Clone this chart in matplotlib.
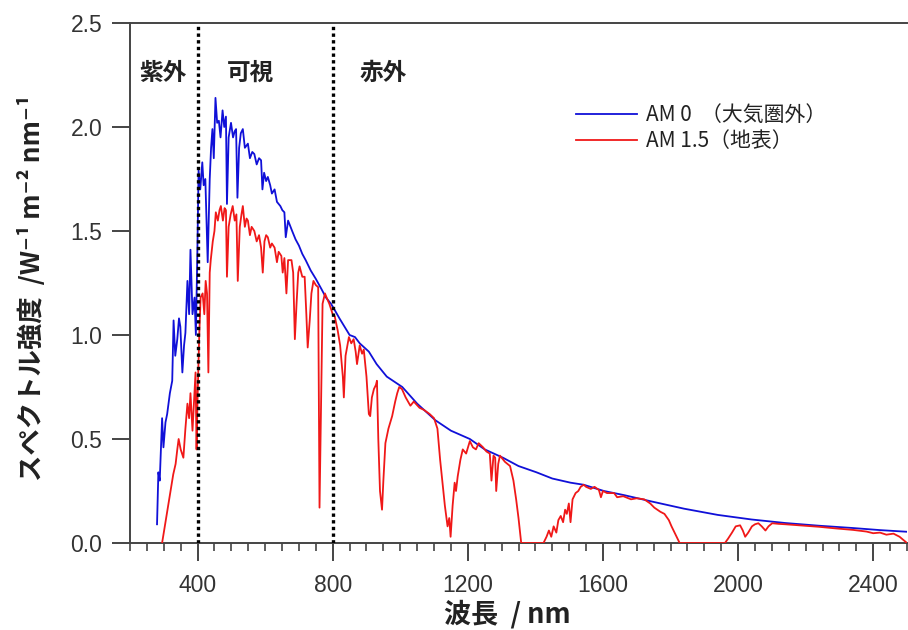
import numpy as np
import matplotlib
matplotlib.use("Agg")
import matplotlib.pyplot as plt
from matplotlib.ticker import MultipleLocator, FixedLocator

# AM0 (extraterrestrial) spectrum, wavelength in nm
am0_wl = [280, 284, 288, 295, 299, 305, 310, 318, 325, 329, 334, 340, 345, 349, 355,
          360, 364, 370, 375, 379, 385, 391, 395, 399, 403, 408, 414, 418, 423, 430,
          436, 440, 444, 448, 453, 458, 463, 468, 474, 479, 484, 487, 492, 499, 505,
          510, 514, 518, 523, 528, 534, 540, 549, 555, 562, 568, 575, 582, 588, 592,
          597, 603, 608, 615, 620, 628, 635, 645, 651, 657, 661, 668, 680, 690, 700,
          710, 720, 735, 750, 767, 780, 795, 806, 820, 835, 850, 866, 880, 907, 930,
          960, 1006, 1050, 1104, 1150, 1206, 1250, 1304, 1350, 1403, 1450, 1504, 1543,
          1603, 1663, 1743, 1840, 1940, 2040, 2140, 2240, 2340, 2420, 2500]
am0_val = [0.09, 0.34, 0.30, 0.60, 0.46, 0.58, 0.62, 0.72, 0.78, 1.07, 0.90, 0.98, 1.08, 1.04, 0.82,
           0.95, 1.01, 1.26, 1.10, 1.41, 1.10, 1.18, 1.00, 1.36, 1.79, 1.70, 1.83, 1.72, 1.75, 1.35,
           1.75, 1.90, 1.99, 1.85, 2.14, 2.02, 2.03, 1.95, 2.08, 2.00, 2.05, 1.63, 1.95, 2.02, 1.95,
           1.98, 1.99, 1.66, 1.90, 1.97, 1.99, 1.90, 1.92, 1.85, 1.88, 1.87, 1.82, 1.85, 1.84, 1.70,
           1.78, 1.74, 1.76, 1.72, 1.68, 1.70, 1.64, 1.62, 1.60, 1.59, 1.47, 1.55, 1.50, 1.46, 1.43,
           1.39, 1.36, 1.31, 1.27, 1.22, 1.18, 1.15, 1.12, 1.08, 1.04, 1.00, 0.99, 0.96, 0.92, 0.86,
           0.80, 0.75, 0.67, 0.59, 0.54, 0.50, 0.45, 0.41, 0.37, 0.34, 0.31, 0.29, 0.28,
           0.25, 0.23, 0.20, 0.165, 0.135, 0.113, 0.096, 0.083, 0.072, 0.062, 0.054]

# AM1.5 (ground level) spectrum
am15_wl = [295, 300, 310, 320, 328, 335, 340, 344, 350, 358, 364, 370, 375, 379, 385,
           390, 394, 397, 400, 405, 409, 415, 420, 424, 428, 432, 436, 439, 445, 450,
           454, 460, 465, 469, 475, 480, 484, 487, 492, 498, 504, 510, 515, 519, 525,
           530, 534, 540, 545, 549, 555, 560, 568, 575, 582, 588, 593, 598, 603, 608,
           615, 620, 628, 635, 640, 648, 652, 657, 663, 668, 678, 683, 688, 693, 698,
           702, 710, 717, 722, 726, 732, 737, 743, 750, 757, 761, 765, 770, 777, 782,
           790, 800, 806, 815, 822, 830, 833, 838, 848, 855, 862, 868, 872, 880, 887,
           892, 900, 907, 911, 916, 922, 928, 931, 935, 940, 946, 950, 956, 965, 976,
           985, 991, 997, 1005, 1016, 1030, 1040, 1057, 1070, 1087, 1100, 1110, 1118, 1125, 1132,
           1140, 1145, 1149, 1155, 1161, 1165, 1170, 1178, 1185, 1195, 1206, 1215, 1224, 1232, 1245,
           1255, 1265, 1270, 1276, 1281, 1284, 1290, 1295, 1310, 1325, 1335, 1343, 1350, 1358, 1424,
           1433, 1440, 1447, 1454, 1462, 1468, 1475, 1482, 1488, 1493, 1499, 1504, 1510, 1519, 1527,
           1534, 1543, 1550, 1564, 1575, 1588, 1594, 1600, 1612, 1633, 1642, 1660, 1683, 1700, 1722,
           1740, 1752, 1770, 1782, 1795, 1803, 1815, 1827, 1961, 1970, 1982, 1993, 2006, 2014, 2021,
           2030, 2041, 2050, 2060, 2070, 2081, 2090, 2101, 2120, 2140, 2180, 2239, 2290, 2340, 2380,
           2400, 2420, 2439, 2460, 2478, 2500]
am15_val = [0.0, 0.05, 0.15, 0.25, 0.33, 0.38, 0.45, 0.50, 0.45, 0.41, 0.55, 0.67, 0.60, 0.72, 0.54,
            0.70, 0.82, 0.45, 0.70, 1.00, 1.18, 1.20, 1.10, 1.26, 1.20, 0.82, 1.30, 1.36, 1.45, 1.50,
            1.59, 1.55, 1.60, 1.62, 1.55, 1.61, 1.60, 1.28, 1.52, 1.58, 1.62, 1.55, 1.58, 1.26, 1.52,
            1.58, 1.62, 1.52, 1.56, 1.55, 1.48, 1.52, 1.50, 1.45, 1.48, 1.42, 1.30, 1.45, 1.48, 1.47,
            1.42, 1.44, 1.42, 1.35, 1.40, 1.38, 1.30, 1.37, 1.20, 1.36, 1.36, 1.30, 0.98, 1.15, 1.30,
            1.33, 1.28, 1.28, 1.10, 0.94, 1.07, 1.20, 1.26, 1.24, 1.23, 0.17, 0.60, 1.15, 1.20, 1.18,
            1.15, 1.10, 1.09, 1.02, 0.95, 0.80, 0.70, 0.90, 0.99, 0.96, 0.98, 0.92, 0.86, 0.95, 0.91,
            0.93, 0.80, 0.62, 0.61, 0.70, 0.74, 0.76, 0.78, 0.50, 0.25, 0.16, 0.30, 0.48, 0.55, 0.61,
            0.68, 0.72, 0.75, 0.74, 0.70, 0.66, 0.68, 0.65, 0.64, 0.62, 0.60, 0.55, 0.40, 0.29, 0.18,
            0.08, 0.12, 0.03, 0.18, 0.29, 0.25, 0.32, 0.40, 0.45, 0.43, 0.49, 0.46, 0.45, 0.48, 0.46,
            0.44, 0.43, 0.30, 0.42, 0.41, 0.25, 0.38, 0.42, 0.39, 0.37, 0.30, 0.21, 0.12, 0.0, 0.0,
            0.03, 0.06, 0.03, 0.08, 0.05, 0.11, 0.13, 0.10, 0.16, 0.14, 0.19, 0.10, 0.21, 0.24, 0.25,
            0.27, 0.28, 0.27, 0.26, 0.27, 0.255, 0.22, 0.25, 0.24, 0.24, 0.22, 0.225, 0.21, 0.215, 0.21,
            0.19, 0.17, 0.15, 0.14, 0.11, 0.08, 0.04, 0.0, 0.0, 0.02, 0.05, 0.08, 0.085, 0.06, 0.03,
            0.05, 0.08, 0.09, 0.095, 0.08, 0.06, 0.08, 0.095, 0.092, 0.09, 0.085, 0.078, 0.07, 0.063, 0.055,
            0.047, 0.05, 0.04, 0.045, 0.03, 0.0]

region_names = ["紫外", "可視", "赤外"]
region_x = [298, 556, 950]
boundaries = [400, 800]
legend_labels = ["AM 0  （大気圏外）", "AM 1.5（地表）"]

jp = ["Noto Sans CJK JP", "DejaVu Sans"]
num = ["Liberation Sans", "DejaVu Sans"]

fig = plt.figure(figsize=(9.08, 6.30), dpi=100)
ax = fig.add_axes([130/908, 1-543/630, 777/908, 520/630])

ax.plot(am0_wl, am0_val, color="#1010d8", lw=1.3, label=legend_labels[0], zorder=3)
ax.plot(am15_wl, am15_val, color="#f01818", lw=1.3, label=legend_labels[1], zorder=4)

for b in boundaries:
    ax.axvline(b, color="black", lw=2.4, ls=(0, (1, 1)), zorder=5)

for name, xx in zip(region_names, region_x):
    ax.text(xx, 2.26, name, ha="center", va="center", fontsize=17,
            fontweight="bold", family=jp, color="#222222")

ax.set_xlim(200, 2500)
ax.set_ylim(0, 2.5)
ax.xaxis.set_major_locator(FixedLocator([400, 800, 1200, 1600, 2000, 2400]))
ax.xaxis.set_minor_locator(MultipleLocator(50))
ax.yaxis.set_major_locator(MultipleLocator(0.5))
ax.yaxis.set_major_formatter(matplotlib.ticker.FormatStrFormatter("%.1f"))

for s in ["left", "bottom", "top"]:
    ax.spines[s].set_color("#444444")
    ax.spines[s].set_linewidth(1.4)
ax.spines["right"].set_visible(False)

ax.tick_params(axis="x", which="major", direction="out", length=13, width=1.4,
               color="#444444", labelsize=16.5, labelcolor="#333333", pad=9)
ax.tick_params(axis="x", which="minor", direction="out", length=6, width=1.2,
               color="#444444")
ax.tick_params(axis="y", which="major", direction="out", length=13, width=1.4,
               color="#444444", labelsize=16.5, labelcolor="#333333", pad=7)
for lab in ax.get_xticklabels() + ax.get_yticklabels():
    lab.set_family(num)

ax.set_xlabel("波長  / nm", fontsize=19.5, fontweight="bold", family=jp, color="#222222",
              va="center")
ax.xaxis.set_label_coords(0.485, -0.136)
ax.set_ylabel("スペクトル強度  /W⁻¹ m⁻² nm⁻¹", fontsize=19, fontweight="bold",
              family=jp, color="#222222")
ax.yaxis.set_label_coords(-0.108, 0.49)

leg = ax.legend(loc="upper left", bbox_to_anchor=(0.55, 0.88), frameon=False,
                handlelength=2.9, handletextpad=0.45, labelspacing=0.2,
                prop={"family": jp, "size": 15})
for t in leg.get_texts():
    t.set_color("#222222")

fig.savefig("out.png", dpi=100)
